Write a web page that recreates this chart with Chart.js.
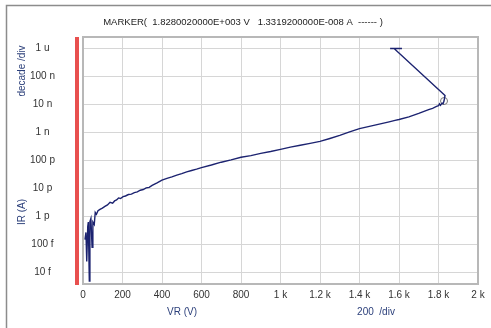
<!DOCTYPE html>
<html>
<head>
<meta charset="utf-8">
<script src="https://cdn.jsdelivr.net/npm/chart.js@4"></script>
<style>
  html, body { margin: 0; padding: 0; background: #fff; }
  #wrap { width: 491px; height: 328px; position: relative; }
</style>
</head>
<body>
<div id="wrap"><canvas id="chart" width="491" height="328"></canvas></div>
<script>
// IR vs VR sweep
const vr = [10, 15, 19, 24, 27, 32, 35, 40, 46, 50, 57, 62, 68, 76, 86, 98, 111, 124, 137, 150, 160, 170, 180, 190,
  203, 215, 230, 245, 260, 275, 290, 305, 320, 335, 350, 375, 400, 425, 450, 475, 500, 525, 550, 575, 600, 650,
  700, 750, 800, 850, 900, 950, 1000, 1050, 1100, 1150, 1200, 1250, 1300, 1350, 1400, 1450, 1500, 1550, 1580,
  1600, 1650, 1700, 1750, 1770, 1790, 1800, 1805, 1810, 1818, 1823, 1828, 1833, 1575, 1615, 1555];
const ir = [1.5e-13, 2.7e-13, 2.5e-14, 4.4e-13, 6.3e-13, 5.0e-15, 6.6e-13, 8.5e-13, 7.9e-14, 6.3e-13,
  5.2e-13, 1.4e-12, 1.2e-12, 1.6e-12, 1.8e-12, 2.0e-12, 2.3e-12, 2.6e-12, 3.2e-12, 3.0e-12, 3.6e-12, 3.9e-12, 4.6e-12, 4.4e-12,
  5.1e-12, 5.4e-12, 6.1e-12, 6.3e-12, 7.1e-12, 7.6e-12, 8.7e-12, 9.2e-12, 1.05e-11, 1.1e-11, 1.3e-11, 1.6e-11, 2.0e-11,
  2.3e-11, 2.6e-11, 3.0e-11, 3.4e-11, 3.9e-11, 4.4e-11, 4.9e-11, 5.6e-11, 6.9e-11,
  8.7e-11, 1.05e-10, 1.3e-10, 1.5e-10, 1.8e-10, 2.1e-10, 2.5e-10, 3.0e-10, 3.5e-10, 4.1e-10, 4.8e-10, 6.1e-10,
  7.9e-10, 1.05e-9, 1.38e-9, 1.66e-9, 2.0e-9, 2.4e-9, 2.7e-9,
  2.9e-9, 3.6e-9, 4.8e-9, 6.6e-9, 7.3e-9, 8.5e-9, 9.1e-9, 1.05e-8, 9.3e-9, 1.12e-8, 1.07e-8, 1.33e-8, 2.1e-8, 1e-6, 1e-6, 1e-6];

// marker position
const markerV = 1828.002;
const markerI = 1.33192e-8;

const xTickValues = [0, 200, 400, 600, 800, 1000, 1200, 1400, 1600, 1800, 2000];
const xTickLabels = ['0', '200', '400', '600', '800', '1 k', '1.2 k', '1.4 k', '1.6 k', '1.8 k', '2 k'];
const yTickValues = [1e-14, 1e-13, 1e-12, 1e-11, 1e-10, 1e-9, 1e-8, 1e-7, 1e-6];
const yTickLabels = ['10 f', '100 f', '1 p', '10 p', '100 p', '1 n', '10 n', '100 n', '1 u'];

const titleText = 'MARKER(  1.8280020000E+003 V   1.3319200000E-008 A  ------ )';
const FONT = '"Liberation Sans", Arial, sans-serif';

const trace = vr.map((v, i) => ({ x: v, y: ir[i] }));

// frame, red bar, plot border and the loose labels
const decor = {
  id: 'decor',
  beforeDraw(chart) {
    const { ctx, chartArea: a } = chart;
    ctx.save();
    ctx.strokeStyle = '#8c8c8c';
    ctx.lineWidth = 1.5;
    ctx.beginPath();
    ctx.moveTo(6.5, 328);
    ctx.lineTo(6.5, 5.5);
    ctx.lineTo(491, 5.5);
    ctx.stroke();
    ctx.fillStyle = '#e8504f';
    ctx.fillRect(a.left - 8, a.top, 4, a.bottom - a.top + 1);
    ctx.restore();
  },
  beforeDatasetsDraw(chart) {
    const { ctx, chartArea: a } = chart;
    ctx.save();
    ctx.strokeStyle = '#b8b8b8';
    ctx.lineWidth = 2;
    ctx.strokeRect(a.left, a.top, a.right - a.left, a.bottom - a.top);
    ctx.restore();
  },
  afterDraw(chart) {
    const { ctx } = chart;
    ctx.save();
    ctx.fillStyle = '#222';
    ctx.font = '9.5px ' + FONT;
    ctx.textAlign = 'center';
    ctx.textBaseline = 'middle';
    ctx.fillText(titleText, 243, 22);
    ctx.font = '10px ' + FONT;
    ctx.fillStyle = '#2b3f7a';
    ctx.fillText('VR (V)', 182, 312);
    ctx.fillText('200  /div', 376, 312);
    ctx.save();
    ctx.translate(22, 71);
    ctx.rotate(-Math.PI / 2);
    ctx.fillText('decade /div', 0, 0);
    ctx.restore();
    ctx.translate(22, 212);
    ctx.rotate(-Math.PI / 2);
    ctx.fillText('IR (A)', 0, 0);
    ctx.restore();
  }
};

new Chart(document.getElementById('chart'), {
  type: 'scatter',
  data: {
    datasets: [{
      data: trace,
      showLine: true,
      borderColor: '#1c2370',
      borderWidth: 1.4,
      pointRadius: 0,
      tension: 0
    }, {
      data: [{ x: markerV, y: markerI }],
      pointRadius: 3.5,
      pointStyle: 'circle',
      pointBorderColor: '#777',
      pointBackgroundColor: 'rgba(0,0,0,0)',
      pointBorderWidth: 1
    }]
  },
  options: {
    responsive: false,
    animation: false,
    devicePixelRatio: 1,
    layout: { padding: { top: 37, right: 13, left: 0, bottom: 0 } },
    plugins: { legend: { display: false }, tooltip: { enabled: false } },
    scales: {
      x: {
        type: 'linear',
        min: 0,
        max: 2000,
        afterBuildTicks: s => { s.ticks = xTickValues.map(v => ({ value: v })); },
        afterFit: s => { s.height = 44; },
        grid: { color: '#d6d6d6', lineWidth: 1, drawTicks: false },
        border: { display: false },
        ticks: {
          padding: 5,
          maxRotation: 0,
          autoSkip: false,
          color: '#333',
          font: { family: FONT, size: 10 },
          callback: v => xTickLabels[xTickValues.indexOf(v)]
        }
      },
      y: {
        type: 'logarithmic',
        min: Math.pow(10, -14.41),
        max: Math.pow(10, -5.59),
        afterBuildTicks: s => { s.ticks = yTickValues.map(v => ({ value: v })); },
        afterFit: s => { s.width = 83; },
        grid: { color: '#d6d6d6', lineWidth: 1, drawTicks: false },
        border: { display: false },
        ticks: {
          padding: 28,
          crossAlign: 'center',
          autoSkip: false,
          color: '#333',
          font: { family: FONT, size: 10 },
          callback: v => {
            const i = yTickValues.findIndex(t => Math.abs(Math.log10(t) - Math.log10(v)) < 0.01);
            return i >= 0 ? yTickLabels[i] : '';
          }
        }
      }
    }
  },
  plugins: [decor]
});
</script>
</body>
</html>
